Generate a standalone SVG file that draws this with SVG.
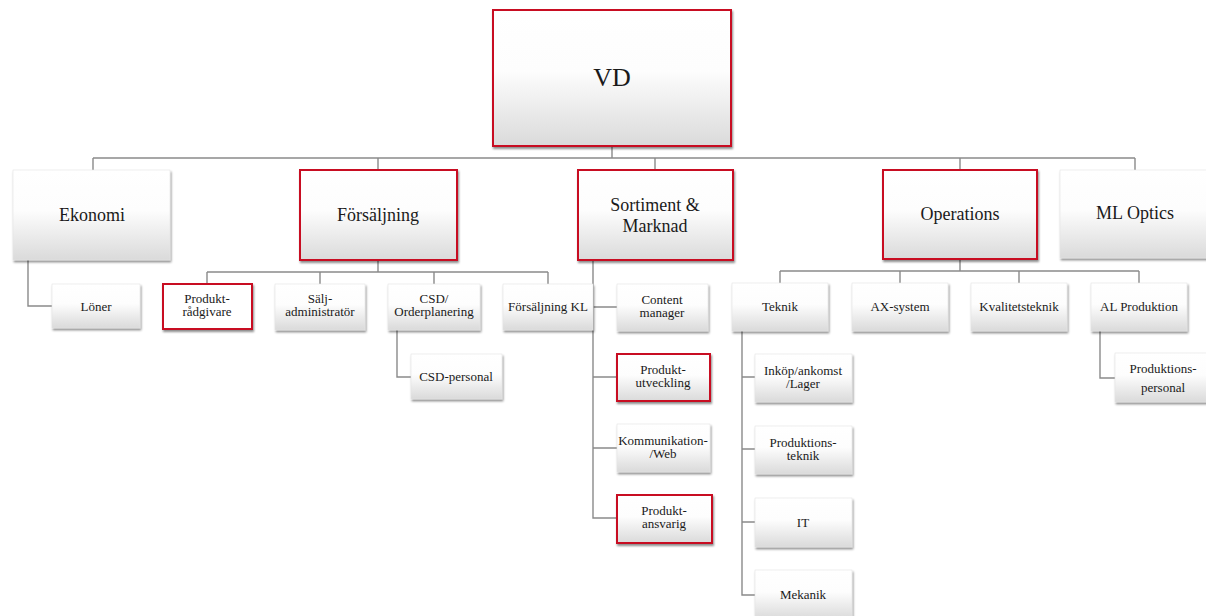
<svg xmlns="http://www.w3.org/2000/svg" width="1206" height="616" viewBox="0 0 1206 616">
  <defs>
    <linearGradient id="boxFill" x1="0" y1="0" x2="0" y2="1">
      <stop offset="0" stop-color="#ffffff"/>
      <stop offset="0.45" stop-color="#fdfdfd"/>
      <stop offset="1" stop-color="#dadada"/>
    </linearGradient>
    <filter id="shadow" x="-10%" y="-10%" width="125%" height="130%">
      <feDropShadow dx="1" dy="2" stdDeviation="1.2" flood-color="#000" flood-opacity="0.45"/>
    </filter>
  </defs>
  <style>
    .box { fill: url(#boxFill); stroke: #e4e4e4; stroke-width: 0.6; filter: url(#shadow); }
    .key { stroke: #c80f22; stroke-width: 2; }
    .plain { fill: #ffffff; }
    .link { fill: none; stroke: #8a8a8a; stroke-width: 1.4; }
    .lbl { font-family: 'Liberation Serif', 'DejaVu Serif', serif; fill: #1a1a1a; text-anchor: middle; }
    .t1 { font-size: 26px; }
    .t2 { font-size: 18px; }
    .t3 { font-size: 13px; }
  </style>

  <rect width="1206" height="616" fill="#ffffff"/>

  <!-- connectors -->
  <g id="connectors">
    <!-- VD to department heads -->
    <path class="link" d="M612 146 V158 M93 158 H1135 M93 158 V170 M378 158 V170 M655 158 V170 M960 158 V170 M1135 158 V170"/>
    <!-- Ekonomi -->
    <path class="link" d="M28 260 V306 H52"/>
    <!-- Försäljning -->
    <path class="link" d="M378 260 V272 M207 272 H548 M207 272 V284 M320 272 V284 M434 272 V284 M548 272 V284"/>
    <path class="link" d="M397 330 V377 H411"/>
    <!-- Sortiment & Marknad -->
    <path class="link" d="M593 260 V518 H617 M593 307 H617 M593 377 H617 M593 448 H617"/>
    <!-- Operations -->
    <path class="link" d="M960 259 V271 M780 271 H1139 M780 271 V283 M900 271 V283 M1019 271 V283 M1139 271 V283"/>
    <path class="link" d="M742 331 V595 H755 M742 377 H755 M742 449 H755 M742 522 H755"/>
    <path class="link" d="M1100 331 V378 H1115"/>
  </g>

  <g class="lbl" font-family="Liberation Serif, DejaVu Serif, serif">
  <!-- top -->
  <g id="vd">
    <rect class="box key" x="493" y="10" width="238" height="136"/>
    <text class="t1" x="612" y="86">VD</text>
  </g>

  <!-- department heads -->
  <g id="ekonomi">
    <rect class="box" x="13" y="170" width="157" height="90"/>
    <text class="t2" x="92" y="221">Ekonomi</text>
  </g>
  <g id="forsaljning">
    <rect class="box key" x="300" y="170" width="157" height="90"/>
    <text class="t2" x="378" y="221">Försäljning</text>
  </g>
  <g id="sortiment">
    <rect class="box key" x="578" y="170" width="155" height="90"/>
    <text class="t2" x="655" y="211">Sortiment &amp;</text>
    <text class="t2" x="655" y="232">Marknad</text>
  </g>
  <g id="operations">
    <rect class="box key" x="883" y="170" width="154" height="89"/>
    <text class="t2" x="960" y="220">Operations</text>
  </g>
  <g id="ml-optics">
    <rect class="box" x="1060" y="170" width="155" height="88"/>
    <text class="t2" x="1135" y="219">ML Optics</text>
  </g>

  <!-- Ekonomi units -->
  <g id="loner">
    <rect class="box" x="52" y="284" width="88" height="44"/>
    <text class="t3" x="96" y="311">Löner</text>
  </g>

  <!-- Försäljning units -->
  <g id="produktradgivare">
    <rect class="box key plain" x="163" y="284" width="89" height="45"/>
    <text class="t3" x="207" y="303">Produkt-</text>
    <text class="t3" x="207" y="316">rådgivare</text>
  </g>
  <g id="saljadministrator">
    <rect class="box" x="275" y="284" width="90" height="46"/>
    <text class="t3" x="320" y="303">Sälj-</text>
    <text class="t3" x="320" y="316">administratör</text>
  </g>
  <g id="csd-orderplanering">
    <rect class="box" x="388" y="284" width="92" height="46"/>
    <text class="t3" x="434" y="303">CSD/</text>
    <text class="t3" x="434" y="316">Orderplanering</text>
  </g>
  <g id="forsaljning-kl">
    <rect class="box" x="503" y="284" width="90" height="46"/>
    <text class="t3" x="548" y="311">Försäljning KL</text>
  </g>
  <g id="csd-personal">
    <rect class="box" x="411" y="354" width="91" height="45"/>
    <text class="t3" x="456" y="381">CSD-personal</text>
  </g>

  <!-- Sortiment & Marknad units -->
  <g id="content-manager">
    <rect class="box" x="617" y="284" width="91" height="47"/>
    <text class="t3" x="662" y="304">Content</text>
    <text class="t3" x="662" y="317">manager</text>
  </g>
  <g id="produktutveckling">
    <rect class="box key" x="617" y="354" width="93" height="47"/>
    <text class="t3" x="663" y="374">Produkt-</text>
    <text class="t3" x="663" y="387">utveckling</text>
  </g>
  <g id="kommunikation-web">
    <rect class="box" x="617" y="424" width="93" height="48"/>
    <text class="t3" x="663" y="445">Kommunikation-</text>
    <text class="t3" x="663" y="458">/Web</text>
  </g>
  <g id="produktansvarig">
    <rect class="box key" x="617" y="495" width="95" height="48"/>
    <text class="t3" x="664" y="515">Produkt-</text>
    <text class="t3" x="664" y="528">ansvarig</text>
  </g>

  <!-- Operations units -->
  <g id="teknik">
    <rect class="box" x="732" y="283" width="96" height="48"/>
    <text class="t3" x="780" y="311">Teknik</text>
  </g>
  <g id="ax-system">
    <rect class="box" x="852" y="283" width="96" height="48"/>
    <text class="t3" x="900" y="311">AX-system</text>
  </g>
  <g id="kvalitetsteknik">
    <rect class="box" x="971" y="283" width="96" height="48"/>
    <text class="t3" x="1019" y="311">Kvalitetsteknik</text>
  </g>
  <g id="al-produktion">
    <rect class="box" x="1091" y="283" width="96" height="48"/>
    <text class="t3" x="1139" y="311">AL Produktion</text>
  </g>
  <g id="produktionspersonal">
    <rect class="box" x="1115" y="353" width="96" height="49"/>
    <text class="t3" x="1163" y="373">Produktions-</text>
    <text class="t3" x="1163" y="392">personal</text>
  </g>

  <!-- Teknik units -->
  <g id="inkop">
    <rect class="box" x="755" y="354" width="97" height="48"/>
    <text class="t3" x="803" y="375">Inköp/ankomst</text>
    <text class="t3" x="803" y="388">/Lager</text>
  </g>
  <g id="produktionsteknik">
    <rect class="box" x="755" y="426" width="97" height="48"/>
    <text class="t3" x="803" y="447">Produktions-</text>
    <text class="t3" x="803" y="460">teknik</text>
  </g>
  <g id="it">
    <rect class="box" x="755" y="498" width="97" height="49"/>
    <text class="t3" x="803" y="527">IT</text>
  </g>
  <g id="mekanik">
    <rect class="box" x="755" y="570" width="97" height="49"/>
    <text class="t3" x="803" y="599">Mekanik</text>
  </g>
  </g>
</svg>
